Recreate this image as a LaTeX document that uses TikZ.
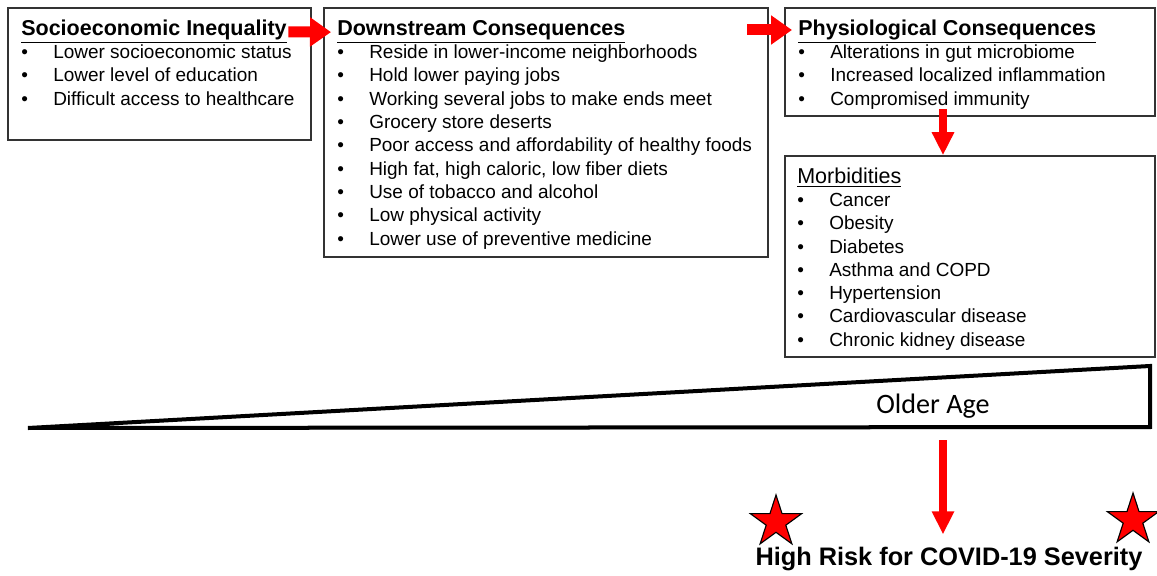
\documentclass[tikz,border=0pt]{standalone}
\usepackage{fontspec}
\setmainfont{Liberation Sans}
\newfontfamily\agefont{Carlito}
\usetikzlibrary{positioning}
\usetikzlibrary{calc}
\usetikzlibrary{fit}
\usetikzlibrary{arrows.meta}
\usetikzlibrary{shapes}
\usetikzlibrary{shadows}

\newcommand{\bul}{\makebox[0.8cm][l]{\textbullet}}

\begin{document}
\begin{tikzpicture}[x=0.025cm, y=-0.025cm,
  box/.style={draw=black!80, line width=1.1pt, inner sep=0pt},
  head/.style={anchor=base west, inner sep=0pt, font=\fontsize{15.3}{18}\selectfont\bfseries},
  subhead/.style={anchor=base west, inner sep=0pt, font=\fontsize{15.3}{18}\selectfont},
  item/.style={anchor=base west, inner sep=0pt, font=\fontsize{13.5}{16}\selectfont},
  bigarrow/.style={red, line width=0.275cm, -{Triangle[length=0.525cm, width=0.7cm]}},
  downarrow/.style={red, line width=0.19cm, -{Triangle[length=0.575cm, width=0.525cm]}},
  redstar/.style={star, star points=5, star point ratio=2.618, fill=red, draw=black, line width=0.8pt, minimum size=1.35cm, inner sep=0pt}]

\useasboundingbox (0,0) rectangle (1157,576);

% boxes
\node[box, fit={(8,8) (311,140)}] (soc) {};
\node[box, fit={(324,8) (768,257)}] (down) {};
\node[box, fit={(785,8) (1155,116)}] (phys) {};
\node[box, fit={(785,156) (1155,357)}] (morb) {};

\node[head] (socT) at (21, 36) {\underline{Socioeconomic Inequality}};
\node[item] (s1) at (21, 59) {\bul Lower socioeconomic status};
\node[item] (s2) at (21, 82) {\bul Lower level of education};
\node[item] (s3) at (21, 106) {\bul Difficult access to healthcare};

\node[head] (downT) at (337, 36) {\underline{Downstream Consequences}};
\node[item] (d1) at (337, 59) {\bul Reside in lower-income neighborhoods};
\node[item] (d2) at (337, 82) {\bul Hold lower paying jobs};
\node[item] (d3) at (337, 106) {\bul Working several jobs to make ends meet};
\node[item] (d4) at (337, 129) {\bul Grocery store deserts};
\node[item] (d5) at (337, 152) {\bul Poor access and affordability of healthy foods};
\node[item] (d6) at (337, 176) {\bul High fat, high caloric, low fiber diets};
\node[item] (d7) at (337, 199) {\bul Use of tobacco and alcohol};
\node[item] (d8) at (337, 222) {\bul Low physical activity};
\node[item] (d9) at (337, 246) {\bul Lower use of preventive medicine};

\node[head] (physT) at (798, 36) {\underline{Physiological Consequences}};
\node[item] (p1) at (798, 59) {\bul Alterations in gut microbiome};
\node[item] (p2) at (798, 82) {\bul Increased localized inflammation};
\node[item] (p3) at (798, 106) {\bul Compromised immunity};

\node[subhead] (morbT) at (797, 184) {\underline{Morbidities}};
\node[item] (m1) at (797, 207) {\bul Cancer};
\node[item] (m2) at (797, 230) {\bul Obesity};
\node[item] (m3) at (797, 254) {\bul Diabetes};
\node[item] (m4) at (797, 277) {\bul Asthma and COPD};
\node[item] (m5) at (797, 300) {\bul Hypertension};
\node[item] (m6) at (797, 323) {\bul Cardiovascular disease};
\node[item] (m7) at (797, 347) {\bul Chronic kidney disease};

% age wedge
\draw[line width=0.1cm, fill=white, drop shadow={shadow xshift=0.04cm, shadow yshift=-0.05cm, opacity=0.35}] (28, 428) -- (1150, 366) -- (1150, 427) -- cycle;
\node[anchor=base, inner sep=0pt, font=\agefont\fontsize{20}{24}\selectfont] (age) at (933, 413) {Older Age};

\node[anchor=base, inner sep=0pt, font=\fontsize{18}{22}\selectfont\bfseries] (risk) at (949, 565) {High Risk for COVID-19 Severity};
\node[redstar] (starL) at (776, 522) {};
\node[redstar] (starR) at (1133, 520) {};

\coordinate (a2s) at (747, 30);
\coordinate (a3s) at (943, 109);
\coordinate (a4s) at (943, 440);

\draw[bigarrow, shorten <=1pt] (socT.east) -- ([xshift=-0.15cm]downT.west);
\draw[bigarrow] (a2s) -- ([xshift=-0.15cm]physT.west |- a2s);
\draw[downarrow] (a3s) -- (a3s |- morb.north);
\draw[downarrow, shorten >=0.3cm] (a4s) -- (a4s |- risk.north);

\end{tikzpicture}
\end{document}
